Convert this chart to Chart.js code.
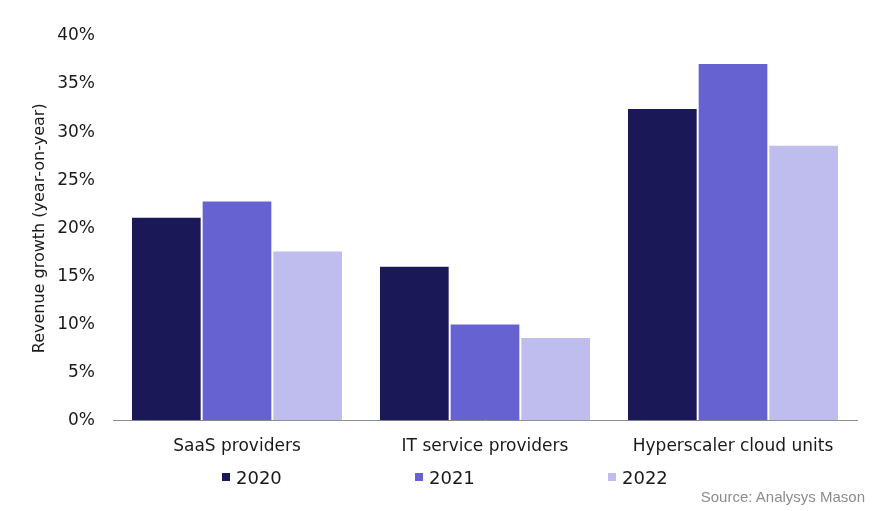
<!DOCTYPE html>
<html>
<head>
<meta charset="utf-8">
<script src="https://cdn.jsdelivr.net/npm/chart.js@4"></script>
<style>
  html, body { margin: 0; padding: 0; background: #fff; }
  #wrap { position: relative; width: 880px; height: 511px; }
  #legend {
    position: absolute; left: 222px; top: 466px; display: flex;
    font-family: "DejaVu Sans", sans-serif; font-size: 18px; color: #1a1a1a;
  }
  .item { width: 193px; display: flex; align-items: center; height: 22px; }
  .box { width: 8px; height: 8px; margin-right: 6px; }
  #source {
    position: absolute; right: 15px; top: 488px;
    font-family: "Liberation Sans", Arial, sans-serif; font-size: 15px; color: #8c8c8c;
  }
</style>
</head>
<body>
<div id="wrap">
  <canvas id="chart" width="880" height="511"></canvas>
  <div id="legend"></div>
  <div id="source">Source: Analysys Mason</div>
</div>
<script>
// Revenue growth by provider type
const categories = ['SaaS providers', 'IT service providers', 'Hyperscaler cloud units'];
const years = ['2020', '2021', '2022'];
const growth2020 = [21.2, 16.1, 32.5];
const growth2021 = [22.9, 10.1, 37.2];
const growth2022 = [17.7, 8.7, 28.7];
const yTicks = [0, 5, 10, 15, 20, 25, 30, 35, 40];

const colors = ['#1b1858', '#6762d1', '#bfbdee'];
const FONT = '"DejaVu Sans", sans-serif';

const series = [growth2020, growth2021, growth2022];

new Chart(document.getElementById('chart'), {
  type: 'bar',
  data: {
    labels: categories,
    datasets: series.map((values, i) => ({
      label: years[i],
      data: values,
      backgroundColor: colors[i],
      borderColor: 'rgba(255,255,255,0.25)',
      borderWidth: 1,
      barPercentage: 1,
      categoryPercentage: 0.855
    }))
  },
  options: {
    responsive: false,
    animation: false,
    layout: { padding: { top: 36, right: 23, left: 0, bottom: 46 } },
    plugins: {
      tooltip: { enabled: false },
      legend: { display: false }
    },
    scales: {
      x: {
        grid: { display: false },
        border: { display: true, color: '#8c8c8c', width: 1 },
        ticks: { color: '#1a1a1a', font: { family: FONT, size: 17 }, padding: 8 }
      },
      y: {
        min: 0,
        max: 40,
        afterBuildTicks: scale => { scale.ticks = yTicks.map(v => ({ value: v })); },
        afterFit: scale => { scale.width = 113; },
        grid: { display: false },
        border: { display: false },
        ticks: {
          color: '#1a1a1a',
          font: { family: FONT, size: 17 },
          padding: 10,
          callback: v => v + '%'
        },
        title: {
          display: true,
          text: 'Revenue growth (year-on-year)',
          color: '#1a1a1a',
          font: { family: FONT, size: 16 },
          padding: { top: 30, bottom: 4 }
        }
      }
    }
  }
});

// html legend, built from the same series names and colours
const legend = document.getElementById('legend');
years.forEach((y, i) => {
  const item = document.createElement('div');
  item.className = 'item';
  item.innerHTML = `<span class="box" style="background:${colors[i]}"></span><span>${y}</span>`;
  legend.appendChild(item);
});
</script>
</body>
</html>
